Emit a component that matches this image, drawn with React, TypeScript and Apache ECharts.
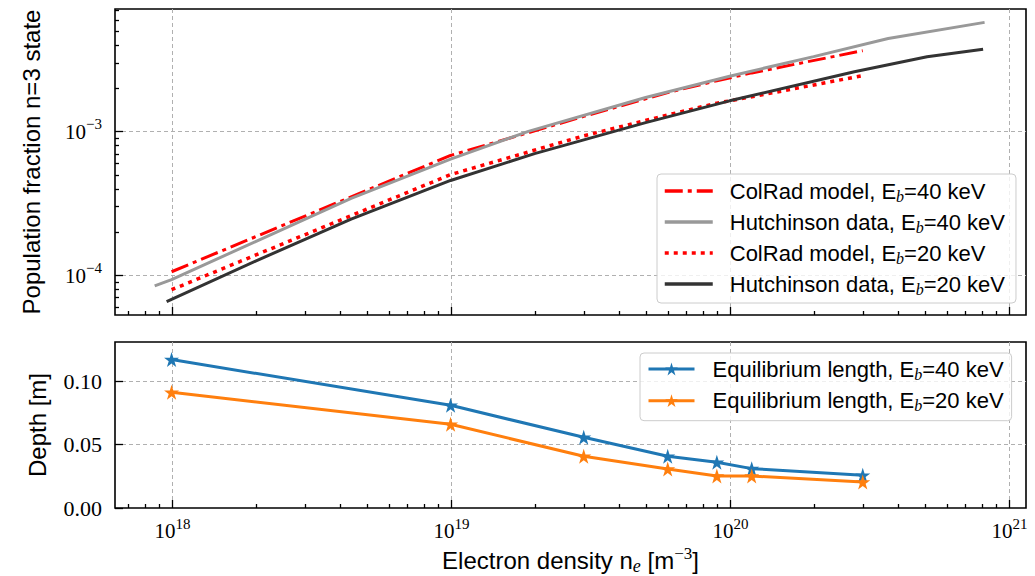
import React, { useEffect, useRef } from 'react';
import * as echarts from 'echarts';

// ---------- data ----------
const densityPoints = [1e18, 1e19, 3e19, 6e19, 9e19, 1.2e20, 3e20];
const colRad40 = [1.054e-4, 6.8e-4, 1.27e-3, 1.86e-3, 2.25e-3, 2.55e-3, 3.64e-3];
const colRad20 = [7.9e-5, 5.0e-4, 9.3e-4, 1.3e-3, 1.57e-3, 1.74e-3, 2.44e-3];
const hutch40Density = [8.7e17, 1e18, 2e18, 4.4e18, 1e19, 1.9e19, 5e19, 1e20, 2e20, 3.7e20, 8.2e20];
const hutch40Fraction = [8.4e-5, 9.3e-5, 1.71e-4, 3.42e-4, 6.4e-4, 1.0e-3, 1.72e-3, 2.42e-3, 3.31e-3, 4.43e-3, 5.73e-3];
const hutch20Density = [9.6e17, 2e18, 4.4e18, 1e19, 2e19, 5e19, 1e20, 2.8e20, 5.1e20, 8.1e20];
const hutch20Fraction = [6.52e-5, 1.25e-4, 2.45e-4, 4.55e-4, 7.0e-4, 1.15e-3, 1.63e-3, 2.6e-3, 3.3e-3, 3.72e-3];
const eqLength40 = [0.1165, 0.0806, 0.0555, 0.0406, 0.0359, 0.0309, 0.0257];
const eqLength20 = [0.0908, 0.0657, 0.0406, 0.0306, 0.0251, 0.0251, 0.0204];

const topNames = [
  'ColRad model, Eb=40 keV',
  'Hutchinson data, Eb=40 keV',
  'ColRad model, Eb=20 keV',
  'Hutchinson data, Eb=20 keV',
];
const bottomNames = ['Equilibrium length, Eb=40 keV', 'Equilibrium length, Eb=20 keV'];

// ---------- axes ----------
const X_MIN = 6.27e17;
const X_MAX = 1.154e21;
const TOP_Y_MIN = 5.27e-5;
const TOP_Y_MAX = 7.1e-3;
const BOT_Y_MIN = 0;
const BOT_Y_MAX = 0.1303;

const xMajorTicks = [1e18, 1e19, 1e20, 1e21];
const xMajorExp = ['18', '19', '20', '21'];
const topYMajorTicks = [1e-4, 1e-3];
const topYMajorExp = ['\u22124', '\u22123'];
const bottomYMajorTicks = [0, 0.05, 0.1];
const bottomYMajorLabels = ['0.00', '0.05', '0.10'];
const minorMultipliers = [2, 3, 4, 5, 6, 7, 8, 9];
const xDecades = [17, 18, 19, 20];
const yDecades = [-5, -4, -3];

const xMinorTicks = xDecades
  .flatMap((d) => minorMultipliers.map((m) => m * Math.pow(10, d)))
  .filter((v) => v > X_MIN && v < X_MAX);
const topYMinorTicks = yDecades
  .flatMap((d) => minorMultipliers.map((m) => m * Math.pow(10, d)))
  .filter((v) => v > TOP_Y_MIN && v < TOP_Y_MAX);

const SANS = 'Liberation Sans';
const SERIF = 'Liberation Serif';
const GRID_COLOR = '#b0b0b0';

type Tick = { v: number; major: boolean; grid: boolean; label?: string };

const powRich = {
  b: { fontSize: 21, fontFamily: SERIF, lineHeight: 30, fill: '#000' },
  s: { fontSize: 15, fontFamily: SERIF, lineHeight: 14, verticalAlign: 'top', fill: '#000' },
};

function makeTickSeries(gridIndex: number, axis: 'x' | 'y', ticks: Tick[], ref: number) {
  return {
    type: 'custom',
    xAxisIndex: gridIndex,
    yAxisIndex: gridIndex,
    silent: true,
    clip: false,
    z: 1,
    data: ticks.map((t) => (axis === 'x' ? [t.v, ref] : [ref, t.v])),
    renderItem: (params: any, api: any) => {
      const t = ticks[params.dataIndex];
      const cs = params.coordSys;
      const pt = api.coord(axis === 'x' ? [t.v, ref] : [ref, t.v]);
      const children: any[] = [];
      if (axis === 'x') {
        const px = Math.round(pt[0]) + 0.5;
        const bottom = cs.y + cs.height;
        if (t.grid) {
          children.push({
            type: 'line',
            shape: { x1: px, y1: cs.y, x2: px, y2: bottom },
            style: { stroke: GRID_COLOR, lineWidth: 1, lineDash: [4, 3] },
          });
        }
        children.push({
          type: 'line',
          shape: { x1: px, y1: bottom, x2: px, y2: bottom - (t.major ? 8 : 4) },
          style: { stroke: '#000', lineWidth: 1.3 },
        });
        if (t.label) {
          children.push({
            type: 'text',
            x: px,
            y: bottom + 8,
            style: {
              text: `{b|10}{s|${t.label}}`,
              align: 'center',
              verticalAlign: 'top',
              fill: '#000',
              rich: powRich,
            },
          });
        }
      } else {
        const py = Math.round(pt[1]) + 0.5;
        const left = cs.x;
        if (t.grid) {
          children.push({
            type: 'line',
            shape: { x1: left, y1: py, x2: left + cs.width, y2: py },
            style: { stroke: GRID_COLOR, lineWidth: 1, lineDash: [4, 3] },
          });
        }
        children.push({
          type: 'line',
          shape: { x1: left, y1: py, x2: left + (t.major ? 8 : 4), y2: py },
          style: { stroke: '#000', lineWidth: 1.3 },
        });
        if (t.label) {
          const isPow = t.label.startsWith('10^');
          children.push({
            type: 'text',
            x: left - 13,
            y: py,
            style: isPow
              ? {
                  text: `{b|10}{s|${t.label.slice(3)}}`,
                  align: 'right',
                  verticalAlign: 'middle',
                  fill: '#000',
                  rich: powRich,
                }
              : {
                  text: t.label,
                  align: 'right',
                  verticalAlign: 'middle',
                  fill: '#000',
                  fontSize: 22,
                  fontFamily: SERIF,
                },
          });
        }
      }
      return { type: 'group', children };
    },
  };
}

const STAR = 'path://M50 0L61.2 34.5L97.6 34.5L68.2 55.9L79.4 90.5L50 69.1L20.6 90.5L31.8 55.9L2.4 34.5L38.8 34.5Z';

const legendRich = {
  sub: { fontSize: 16, fontFamily: SERIF, fontStyle: 'italic', lineHeight: 12, verticalAlign: 'bottom', color: '#000' },
};
const legendFormatter = (name: string) => name.replace('Eb=', 'E{sub|b}=');

export default function App() {
  const ref = useRef<HTMLDivElement>(null);
  useEffect(() => {
    if (!ref.current) return;
    const chart = echarts.init(ref.current, undefined, { renderer: 'svg' });

    const xTicksTop: Tick[] = [
      ...xMajorTicks.map((v) => ({ v, major: true, grid: true })),
      ...xMinorTicks.map((v) => ({ v, major: false, grid: false })),
    ];
    const xTicksBottom: Tick[] = [
      ...xMajorTicks.map((v, i) => ({ v, major: true, grid: true, label: xMajorExp[i] })),
      ...xMinorTicks.map((v) => ({ v, major: false, grid: false })),
    ];
    const yTicksTop: Tick[] = [
      ...topYMajorTicks.map((v, i) => ({ v, major: true, grid: true, label: '10^' + topYMajorExp[i] })),
      ...topYMinorTicks.map((v) => ({ v, major: false, grid: false })),
    ];
    const yTicksBottom: Tick[] = bottomYMajorTicks.map((v, i) => ({
      v,
      major: true,
      grid: v > BOT_Y_MIN,
      label: bottomYMajorLabels[i],
    }));

    const hiddenAxisParts = {
      axisLine: { show: false },
      axisTick: { show: false },
      axisLabel: { show: false },
      splitLine: { show: false },
    };

    const option: any = {
      animation: false,
      backgroundColor: '#fff',
      grid: [
        { left: 115, right: 9, top: 9, height: 306, show: true, borderColor: '#000', borderWidth: 1.6, backgroundColor: 'transparent' },
        { left: 115, right: 9, top: 342, height: 166, show: true, borderColor: '#000', borderWidth: 1.6, backgroundColor: 'transparent' },
      ],
      xAxis: [
        { type: 'log', logBase: 10, gridIndex: 0, min: X_MIN, max: X_MAX, ...hiddenAxisParts },
        {
          type: 'log',
          logBase: 10,
          gridIndex: 1,
          min: X_MIN,
          max: X_MAX,
          ...hiddenAxisParts,
          name: 'Electron density n{e|e} [m{s|\u22123}]',
          nameLocation: 'middle',
          nameGap: 37,
          nameTextStyle: {
            fontSize: 24,
            fontFamily: SANS,
            color: '#000',
            lineHeight: 30,
            rich: {
              e: { fontSize: 18, fontFamily: SERIF, fontStyle: 'italic', lineHeight: 14, verticalAlign: 'bottom', color: '#000' },
              s: { fontSize: 17, fontFamily: SERIF, lineHeight: 14, verticalAlign: 'top', color: '#000' },
            },
          },
        },
      ],
      yAxis: [
        {
          type: 'log',
          logBase: 10,
          gridIndex: 0,
          min: TOP_Y_MIN,
          max: TOP_Y_MAX,
          ...hiddenAxisParts,
          name: 'Population fraction n=3 state',
          nameLocation: 'middle',
          nameGap: 72,
          nameTextStyle: { fontSize: 24, fontFamily: SANS, color: '#000' },
        },
        {
          type: 'value',
          gridIndex: 1,
          min: BOT_Y_MIN,
          max: BOT_Y_MAX,
          ...hiddenAxisParts,
          name: 'Depth [m]',
          nameLocation: 'middle',
          nameGap: 66,
          nameTextStyle: { fontSize: 24, fontFamily: SANS, color: '#000' },
        },
      ],
      legend: [
        {
          data: topNames.map((name) => ({ name, itemStyle: { opacity: 0 }, lineStyle: { width: 3.5 } })),
          orient: 'vertical',
          left: 657,
          top: 174,
          itemWidth: 48,
          itemHeight: 14,
          itemGap: 5,
          padding: [4, 11, 6, 6],
          backgroundColor: 'rgba(255,255,255,0.8)',
          borderColor: '#cccccc',
          borderWidth: 1,
          borderRadius: 4,
          formatter: legendFormatter,
          textStyle: { fontSize: 22, fontFamily: SANS, color: '#000', lineHeight: 26, padding: [0, 0, 0, 12], rich: legendRich },
          z: 10,
        },
        {
          data: bottomNames.map((name) => ({ name, lineStyle: { width: 3 } })),
          orient: 'vertical',
          left: 640,
          top: 353,
          itemWidth: 46,
          itemHeight: 16,
          itemGap: 5.7,
          padding: [3, 8, 7, 7],
          backgroundColor: 'rgba(255,255,255,0.8)',
          borderColor: '#cccccc',
          borderWidth: 1,
          borderRadius: 4,
          formatter: legendFormatter,
          textStyle: { fontSize: 22, fontFamily: SANS, color: '#000', lineHeight: 26, padding: [0, 0, 0, 13], rich: legendRich },
          z: 10,
        },
      ],
      series: [
        makeTickSeries(0, 'x', xTicksTop, 1e-3),
        makeTickSeries(0, 'y', yTicksTop, 1e19),
        makeTickSeries(1, 'x', xTicksBottom, 0.05),
        makeTickSeries(1, 'y', yTicksBottom, 1e19),
        {
          name: topNames[0],
          type: 'line',
          xAxisIndex: 0,
          yAxisIndex: 0,
          data: densityPoints.map((x, i) => [x, colRad40[i]]),
          symbol: 'none',
          color: '#ff0000',
          lineStyle: { color: '#ff0000', width: 3, type: [18, 5, 4, 5] },
        },
        {
          name: topNames[1],
          type: 'line',
          xAxisIndex: 0,
          yAxisIndex: 0,
          data: hutch40Density.map((x, i) => [x, hutch40Fraction[i]]),
          symbol: 'none',
          color: '#999999',
          lineStyle: { color: '#999999', width: 3 },
        },
        {
          name: topNames[2],
          type: 'line',
          xAxisIndex: 0,
          yAxisIndex: 0,
          data: densityPoints.map((x, i) => [x, colRad20[i]]),
          symbol: 'none',
          color: '#ff0000',
          lineStyle: { color: '#ff0000', width: 3.5, type: [4, 5] },
        },
        {
          name: topNames[3],
          type: 'line',
          xAxisIndex: 0,
          yAxisIndex: 0,
          data: hutch20Density.map((x, i) => [x, hutch20Fraction[i]]),
          symbol: 'none',
          color: '#333333',
          lineStyle: { color: '#333333', width: 3 },
        },
        {
          name: bottomNames[0],
          type: 'line',
          xAxisIndex: 1,
          yAxisIndex: 1,
          data: densityPoints.map((x, i) => [x, eqLength40[i]]),
          symbol: STAR,
          symbolSize: 15,
          color: '#1f77b4',
          itemStyle: { color: '#1f77b4' },
          lineStyle: { color: '#1f77b4', width: 3 },
        },
        {
          name: bottomNames[1],
          type: 'line',
          xAxisIndex: 1,
          yAxisIndex: 1,
          data: densityPoints.map((x, i) => [x, eqLength20[i]]),
          symbol: STAR,
          symbolSize: 15,
          color: '#ff7f0e',
          itemStyle: { color: '#ff7f0e' },
          lineStyle: { color: '#ff7f0e', width: 3 },
        },
      ],
    };
    chart.setOption(option);
    return () => chart.dispose();
  }, []);
  return <div ref={ref} style={{ position: 'fixed', left: 0, top: 0, width: 1035, height: 576 }} />;
}
